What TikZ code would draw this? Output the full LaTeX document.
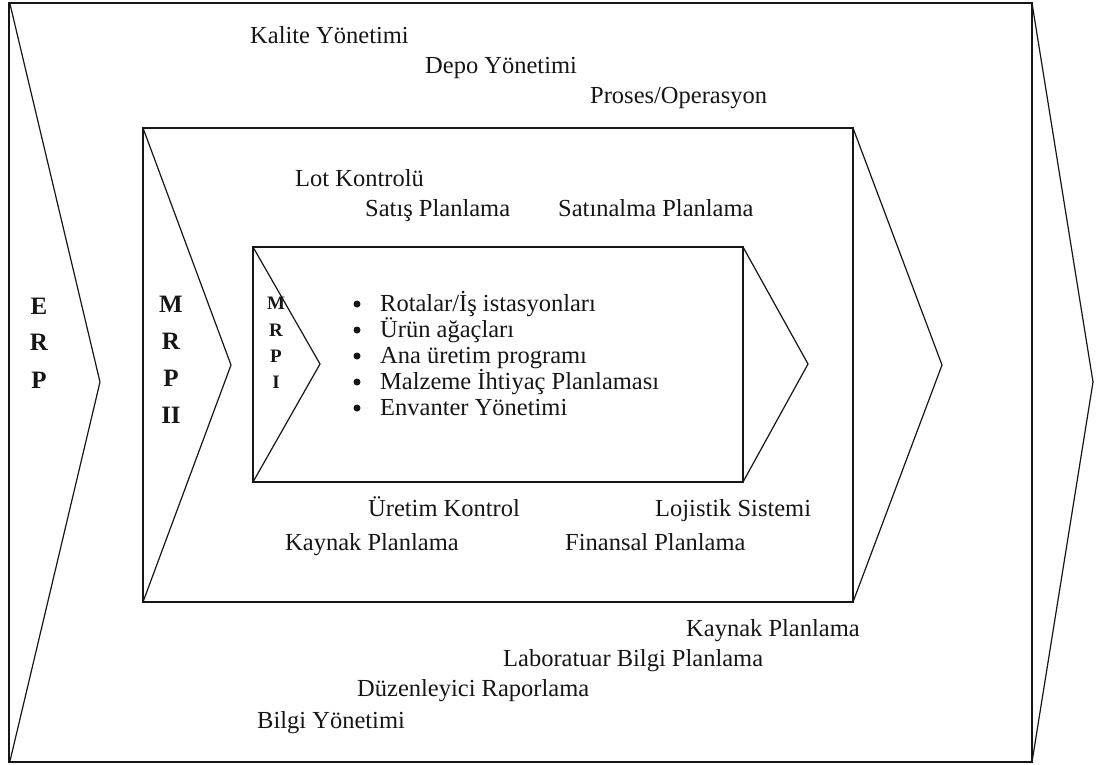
\documentclass[tikz,border=0pt]{standalone}
\usepackage{fontspec}
\setmainfont{Liberation Serif}
\definecolor{ink}{HTML}{161616}
\begin{document}
\begin{tikzpicture}[x=1pt,y=-1pt,
  frame/.style={draw=ink,line width=1.8pt},
  chevron/.style={draw=ink,line width=1.2pt,line join=miter},
  lbl/.style={anchor=base west,inner sep=0pt,text=ink,font=\fontsize{24.5}{28}\selectfont},
  letter/.style={anchor=base,inner sep=0pt,text=ink,font=\bfseries\fontsize{25}{27}\selectfont},
  smallletter/.style={anchor=base,inner sep=0pt,text=ink,font=\bfseries\fontsize{19}{21}\selectfont},
  dot/.style={circle,fill=ink,inner sep=0pt,minimum size=7pt}]
\useasboundingbox (0,0) rectangle (1119,765);
\fill[white] (0,0) rectangle (1119,765);

% ERP frame with its notch and point
\draw[frame] (9,3) rectangle (1032,762);
\draw[chevron] (10,4) -- (100,382) -- (10,761);
\draw[chevron] (1032,3) -- (1093,382) -- (1032,762);

% MRP II frame
\draw[frame] (143,128) rectangle (853,602);
\draw[chevron] (143,128) -- (231,365) -- (143,602);
\draw[chevron] (853,128) -- (942,365) -- (853,602);

% MRP I frame
\draw[frame] (253,247) rectangle (743,482);
\draw[chevron] (253,247) -- (320,364) -- (253,482);
\draw[chevron] (743,247) -- (808,364) -- (743,482);

% vertical acronyms
\node[letter] (erpE) at (39,314) {E};
\node[letter] (erpR) at (39,350) {R};
\node[letter] (erpP) at (39,388) {P};

\node[letter] (m2M) at (171,312) {M};
\node[letter] (m2R) at (171,349) {R};
\node[letter] (m2P) at (171,386) {P};
\node[letter] (m2I) at (171,423) {II};

\node[smallletter] (m1M) at (276,309) {M};
\node[smallletter] (m1R) at (276,336) {R};
\node[smallletter] (m1P) at (276,362) {P};
\node[smallletter] (m1I) at (276,388) {I};

% ERP modules
\node[lbl] (kalite) at (250,44) {Kalite Yönetimi};
\node[lbl] (depo) at (425,74) {Depo Yönetimi};
\node[lbl] (proses) at (590,104) {Proses/Operasyon};
\node[lbl] (kaynak2) at (686,636) {Kaynak Planlama};
\node[lbl] (lab) at (503,666) {Laboratuar Bilgi Planlama};
\node[lbl] (duzen) at (357,696) {Düzenleyici Raporlama};
\node[lbl] (bilgi) at (257,728) {Bilgi Yönetimi};

% MRP II modules
\node[lbl] (lot) at (295,186) {Lot Kontrolü};
\node[lbl] (satis) at (365,216) {Satış Planlama};
\node[lbl] (satinalma) at (558,216) {Satınalma Planlama};
\node[lbl] (uretim) at (368,516) {Üretim Kontrol};
\node[lbl] (lojistik) at (655,516) {Lojistik Sistemi};
\node[lbl] (kaynak1) at (285,550) {Kaynak Planlama};
\node[lbl] (finans) at (565,550) {Finansal Planlama};

% MRP I functions
\foreach \y/\name/\txt in {311/rota/{Rotalar/İş istasyonları},
                           337/agac/{Ürün ağaçları},
                           363/ana/{Ana üretim programı},
                           389/malz/{Malzeme İhtiyaç Planlaması},
                           415/env/{Envanter Yönetimi}}{
  \node[dot] (b-\name) at (357,\y-7) {};
  \node[lbl] (\name) at (380,\y) {\txt};
}
\end{tikzpicture}
\end{document}
